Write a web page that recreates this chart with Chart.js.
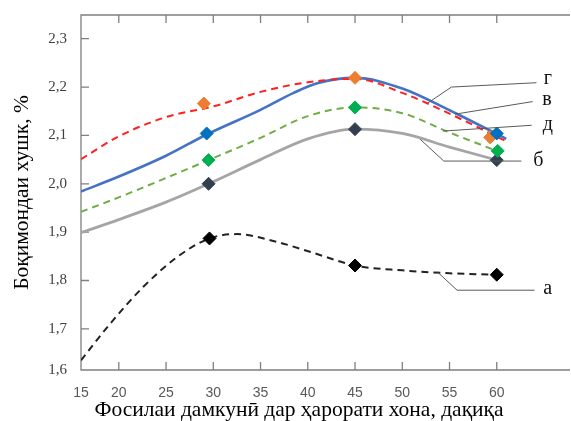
<!DOCTYPE html>
<html>
<head>
<meta charset="utf-8">
<script src="https://cdn.jsdelivr.net/npm/chart.js@4/dist/chart.umd.min.js"></script>
<style>
  body { margin: 0; background: #fff; }
</style>
</head>
<body>
<canvas id="chart" width="571" height="421"></canvas>
<script>
// axis ticks (the first label sits on the axis start, as in the picture)
var xTickValues = [16, 20, 25, 30, 35, 40, 45, 50, 55, 60];
var xTickLabels = ['15', '20', '25', '30', '35', '40', '45', '50', '55', '60'];
var yTickValues = [1.615, 1.7, 1.8, 1.9, 2.0, 2.1, 2.2, 2.3];
var yTickLabels = ['1,6', '1,7', '1,8', '1,9', '2,0', '2,1', '2,2', '2,3'];

// smoothed curves
var gCurveX = [16, 20, 25, 30, 35, 40, 45, 50, 55, 61];
var gCurveY = [2.051, 2.098, 2.138, 2.16, 2.19, 2.21, 2.217, 2.188, 2.145, 2.088];
var vCurveX = [16, 20, 25, 29.3, 35, 38.5, 41, 45, 50, 55, 61];
var vCurveY = [1.984, 2.015, 2.058, 2.102, 2.153, 2.188, 2.208, 2.219, 2.197, 2.152, 2.093];
var dCurveX = [16, 20, 25, 29.5, 35, 40, 45, 50, 55, 60];
var dCurveY = [1.942, 1.972, 2.012, 2.049, 2.095, 2.14, 2.158, 2.146, 2.106, 2.068];
var bCurveX = [16, 20, 25, 29.5, 35, 40, 45, 50, 55, 60];
var bCurveY = [1.899, 1.926, 1.962, 2.0, 2.05, 2.093, 2.113, 2.104, 2.076, 2.049];
var aCurveX = [16, 19.1, 22.6, 26.2, 29.6, 32.5, 36.7, 40.3, 45, 50, 55, 60];
var aCurveY = [1.635, 1.711, 1.787, 1.849, 1.887, 1.896, 1.88, 1.859, 1.831, 1.821, 1.815, 1.812];

// measured points (diamonds)
var gMarkX = [29, 45, 59.3];
var gMarkY = [2.166, 2.219, 2.096];
var vMarkX = [29.3, 45, 60];
var vMarkY = [2.104, null, 2.104];
var dMarkX = [29.5, 45, 60.1];
var dMarkY = [2.049, 2.158, 2.068];
var bMarkX = [29.5, 45, 60];
var bMarkY = [2.0, 2.113, 2.049];
var aMarkX = [29.6, 45, 60];
var aMarkY = [1.887, 1.831, 1.812];

// curve names and their leader lines (in data units)
var tagNames = ['г', 'в', 'д', 'б', 'а'];
var tagLineX = [[52.7, 55.2, 64.2], [55.6, 63.8], [54.3, 63.7], [51.9, 54.4, 62.6], [53.7, 55.8, 64.0]];
var tagLineY = [[2.167, 2.2, 2.209], [2.144, 2.17], [2.109, 2.121], [2.092, 2.047, 2.047], [1.818, 1.78, 1.78]];
var tagX = [65.4, 65.3, 65.4, 64.4, 65.4];
var tagY = [2.217, 2.173, 2.123, 2.047, 1.782];

function pts(xs, ys) {
  return xs.map(function (x, i) { return {x: x, y: ys[i]}; });
}

function curve(xs, ys, color, width, dash) {
  return {
    type: 'line', data: pts(xs, ys), borderColor: color, borderWidth: width,
    borderDash: dash || [], pointRadius: 0, cubicInterpolationMode: 'monotone',
    fill: false, order: 10
  };
}

function marks(xs, ys, color, order) {
  return {
    type: 'line', data: pts(xs, ys), showLine: false, pointStyle: 'rectRot',
    pointRadius: 6.5, pointHoverRadius: 6.5, pointBackgroundColor: color,
    pointBorderColor: color, borderColor: color, order: order
  };
}

function noPad(s) {
  s.paddingTop = 0; s.paddingBottom = 0; s.paddingLeft = 0; s.paddingRight = 0;
}

// frame with inward tick marks, axis title and curve tags
var decor = {
  id: 'decor',
  beforeDatasetsDraw: function (chart) {
    var ctx = chart.ctx, a = chart.chartArea, x = chart.scales.x, y = chart.scales.y;
    ctx.save();
    ctx.strokeStyle = '#7f7f7f';
    ctx.lineWidth = 1.3;
    ctx.beginPath();
    ctx.moveTo(a.right, a.top);
    ctx.lineTo(a.left, a.top);
    ctx.lineTo(a.left, a.bottom);
    ctx.lineTo(a.right, a.bottom);
    xTickValues.forEach(function (v) {
      var px = x.getPixelForValue(v);
      ctx.moveTo(px, a.bottom); ctx.lineTo(px, a.bottom - 8);
      ctx.moveTo(px, a.top); ctx.lineTo(px, a.top + 8);
    });
    yTickValues.forEach(function (v) {
      var py = y.getPixelForValue(v);
      ctx.moveTo(a.left, py); ctx.lineTo(a.left + 8, py);
    });
    ctx.stroke();
    ctx.restore();
  },
  afterDraw: function (chart) {
    var ctx = chart.ctx, x = chart.scales.x, y = chart.scales.y;
    ctx.save();
    ctx.strokeStyle = '#595959';
    ctx.lineWidth = 1;
    tagLineX.forEach(function (xs, i) {
      ctx.beginPath();
      xs.forEach(function (v, j) {
        var px = x.getPixelForValue(v), py = y.getPixelForValue(tagLineY[i][j]);
        if (j === 0) ctx.moveTo(px, py); else ctx.lineTo(px, py);
      });
      ctx.stroke();
    });
    ctx.fillStyle = '#111';
    ctx.font = '20px "Liberation Serif"';
    ctx.textAlign = 'center';
    ctx.textBaseline = 'middle';
    tagNames.forEach(function (t, i) {
      ctx.fillText(t, x.getPixelForValue(tagX[i]), y.getPixelForValue(tagY[i]));
    });
    ctx.fillStyle = '#000';
    ctx.font = '21.5px "Liberation Serif"';
    ctx.fillText('Фосилаи дамкунӣ дар ҳарорати хона, дақиқа', 299, 410);
    ctx.restore();
  }
};

var ctx = document.getElementById('chart').getContext('2d');
var chart = new Chart(ctx, {
  data: {
    datasets: [
      curve(gCurveX, gCurveY, '#ff2020', 2, [7, 5]),
      curve(vCurveX, vCurveY, '#4472c4', 2.6),
      curve(dCurveX, dCurveY, '#70ad47', 2, [7, 5]),
      curve(bCurveX, bCurveY, '#a5a5a5', 2.8),
      curve(aCurveX, aCurveY, '#222222', 2, [7, 5]),
      marks(gMarkX, gMarkY, '#ed7d31', 2),
      marks(vMarkX, vMarkY, '#0070c0', 1),
      marks(dMarkX, dMarkY, '#00b050', 1),
      marks(bMarkX, bMarkY, '#333f50', 1),
      marks(aMarkX, aMarkY, '#000000', 1)
    ]
  },
  options: {
    responsive: false,
    animation: false,
    layout: {autoPadding: false, padding: {top: 15, right: 1, bottom: 0, left: 0}},
    plugins: {legend: {display: false}, tooltip: {enabled: false}},
    scales: {
      x: {
        type: 'linear', min: 16, max: 67.75,
        afterBuildTicks: function (s) { s.ticks = xTickValues.map(function (v) { return {value: v}; }); },
        afterFit: function (s) { s.height = 51; noPad(s); },
        grid: {display: false, drawTicks: false},
        border: {display: false},
        ticks: {
          autoSkip: false, maxRotation: 0, padding: 15, color: '#595959',
          font: {family: '"Liberation Sans"', size: 14},
          callback: function (v, i) { return xTickLabels[i]; }
        }
      },
      y: {
        type: 'linear', min: 1.615, max: 2.349,
        afterBuildTicks: function (s) { s.ticks = yTickValues.map(function (v) { return {value: v}; }); },
        afterFit: function (s) { s.width = 81; noPad(s); },
        grid: {display: false, drawTicks: false},
        border: {display: false},
        ticks: {
          padding: 14, color: '#404040',
          font: {family: '"Liberation Serif"', size: 15},
          callback: function (v, i) { return yTickLabels[i]; }
        },
        title: {
          display: true, text: 'Боқимондаи хушк, %', color: '#000',
          font: {family: '"Liberation Serif"', size: 21.5, lineHeight: 1.2},
          padding: {top: 9, bottom: 0}
        }
      }
    }
  },
  plugins: [decor]
});
</script>
</body>
</html>
